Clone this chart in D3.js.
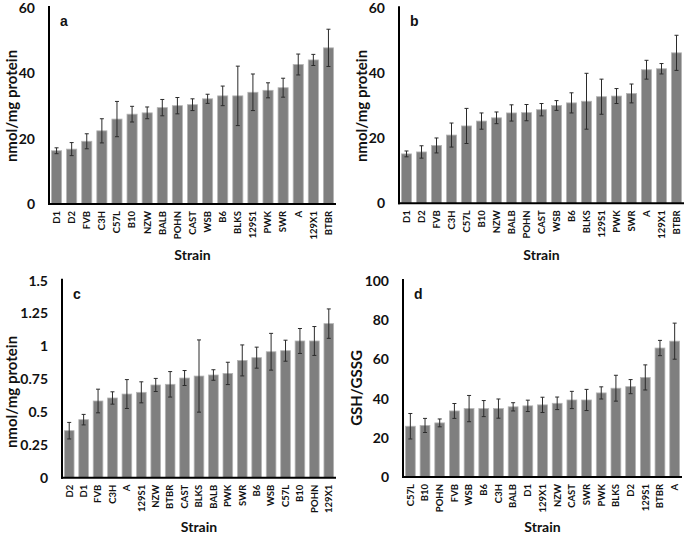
<!DOCTYPE html>
<html>
<head>
<meta charset="utf-8">
<script src="https://cdn.jsdelivr.net/npm/d3@7"></script>
<style>
  body { margin: 0; background: #fff; }
  text { font-family: Lato, "Open Sans", sans-serif; font-weight: bold; }
</style>
</head>
<body>
<div id="chart"></div>
<script>
// strain order and values for each panel
var strainsAB = ["D1", "D2", "FVB", "C3H", "C57L", "B10", "NZW", "BALB", "POHN", "CAST", "WSB", "B6", "BLKS", "129S1", "PWK", "SWR", "A", "129X1", "BTBR"];
var valuesA = [16.3, 16.8, 19.2, 22.4, 26.0, 27.5, 27.9, 29.5, 30.1, 30.4, 32.2, 33.1, 33.1, 34.2, 34.8, 35.6, 42.7, 44.1, 47.8];
var errorsA = [0.9, 2.0, 2.3, 3.7, 5.4, 2.4, 1.8, 2.5, 2.5, 1.8, 1.4, 3.0, 9.1, 5.6, 2.3, 2.9, 3.2, 1.7, 5.7];
var valuesB = [15.2, 15.8, 17.8, 21.0, 23.8, 25.3, 26.3, 27.8, 27.9, 28.8, 30.1, 30.9, 31.4, 32.8, 33.0, 33.8, 41.1, 41.4, 46.3];
var errorsB = [0.9, 1.9, 2.3, 3.7, 5.4, 2.5, 1.8, 2.5, 2.5, 1.9, 1.5, 3.1, 8.6, 5.4, 2.3, 2.9, 2.9, 1.6, 5.4];

var strainsC = ["D2", "D1", "FVB", "C3H", "A", "129S1", "NZW", "BTBR", "CAST", "BLKS", "BALB", "PWK", "SWR", "B6", "WSB", "C57L", "B10", "POHN", "129X1"];
var valuesC = [0.358, 0.442, 0.584, 0.607, 0.637, 0.65, 0.706, 0.711, 0.759, 0.774, 0.782, 0.794, 0.893, 0.914, 0.959, 0.967, 1.041, 1.041, 1.173];
var errorsC = [0.063, 0.04, 0.09, 0.047, 0.11, 0.08, 0.05, 0.097, 0.057, 0.275, 0.04, 0.085, 0.118, 0.08, 0.14, 0.08, 0.095, 0.11, 0.112];

var strainsD = ["C57L", "B10", "POHN", "FVB", "WSB", "B6", "C3H", "BALB", "D1", "129X1", "NZW", "CAST", "SWR", "PWK", "BLKS", "D2", "129S1", "BTBR", "A"];
var valuesD = [25.9, 26.3, 27.6, 33.7, 34.9, 34.9, 34.9, 35.8, 36.3, 36.8, 37.6, 39.3, 39.3, 42.9, 45.3, 46.1, 50.8, 65.8, 69.3];
var errorsD = [6.5, 3.6, 2.0, 3.8, 6.7, 4.1, 4.9, 2.1, 2.9, 3.9, 3.2, 4.4, 5.4, 3.1, 6.6, 3.6, 6.4, 3.9, 9.2];

var ticksAB = [0, 20, 40, 60];
var ticksC = [0, 0.25, 0.5, 0.75, 1, 1.25, 1.5];
var ticksD = [0, 20, 40, 60, 80, 100];

var svg = d3.select("#chart")
  .append("svg")
  .attr("width", 685)
  .attr("height", 535);

function drawPanel(p) {
  var g = svg.append("g");

  var x = d3.scaleBand()
    .domain(p.strains)
    .range([p.left, p.right])
    .paddingInner(0.33)
    .paddingOuter(0.165);

  var y = d3.scaleLinear()
    .domain([0, p.max])
    .range([p.bottom, p.top]);

  // bars
  g.selectAll("rect.bar")
    .data(p.values)
    .enter()
    .append("rect")
    .attr("class", "bar")
    .attr("x", function(d, i) { return x(p.strains[i]); })
    .attr("width", x.bandwidth())
    .attr("y", function(d) { return y(d); })
    .attr("height", function(d) { return y(0) - y(d); })
    .attr("fill", "#7f7f7f")
    .attr("stroke", "#b5b5b5")
    .attr("stroke-width", 0.8);

  // error bars
  var err = g.selectAll("g.err")
    .data(p.values)
    .enter()
    .append("g")
    .attr("class", "err")
    .attr("stroke", "#2b2b2b")
    .attr("stroke-width", 1);

  err.append("line")
    .attr("x1", function(d, i) { return x(p.strains[i]) + x.bandwidth() / 2; })
    .attr("x2", function(d, i) { return x(p.strains[i]) + x.bandwidth() / 2; })
    .attr("y1", function(d, i) { return y(d - p.errors[i]); })
    .attr("y2", function(d, i) { return y(d + p.errors[i]); });

  [-1, 1].forEach(function(s) {
    err.append("line")
      .attr("x1", function(d, i) { return x(p.strains[i]) + x.bandwidth() / 2 - 2; })
      .attr("x2", function(d, i) { return x(p.strains[i]) + x.bandwidth() / 2 + 2; })
      .attr("y1", function(d, i) { return y(d + s * p.errors[i]); })
      .attr("y2", function(d, i) { return y(d + s * p.errors[i]); });
  });

  // axes lines
  g.append("line")
    .attr("x1", p.left).attr("x2", p.left)
    .attr("y1", y(p.max) - 2).attr("y2", y(0) + 1)
    .attr("stroke", "#000").attr("stroke-width", 2);
  g.append("line")
    .attr("x1", p.left - 1).attr("x2", p.right)
    .attr("y1", y(0)).attr("y2", y(0))
    .attr("stroke", "#000").attr("stroke-width", 2);

  // y tick labels
  g.selectAll("text.ytick")
    .data(p.ticks)
    .enter()
    .append("text")
    .attr("x", p.left - 14)
    .attr("y", function(d) { return y(d); })
    .attr("dy", "0.35em")
    .attr("text-anchor", "end")
    .attr("font-size", "14px")
    .attr("fill", "#111")
    .text(function(d) { return d; });

  // x tick labels
  g.selectAll("text.xtick")
    .data(p.strains)
    .enter()
    .append("text")
    .attr("transform", function(d) {
      return "translate(" + (x(d) + x.bandwidth() / 2) + "," + (y(0) + 7) + ") rotate(-90)";
    })
    .attr("dy", "0.35em")
    .attr("text-anchor", "end")
    .attr("font-size", "9.5px")
    .attr("fill", "#111")
    .text(function(d) { return d; });

  // axis titles
  g.append("text")
    .attr("transform", "translate(" + p.titleX + "," + p.titleY + ") rotate(-90)")
    .attr("text-anchor", "middle")
    .attr("font-size", "15px")
    .attr("fill", "#111")
    .text(p.yTitle);

  g.append("text")
    .attr("x", (p.left + p.right) / 2)
    .attr("y", p.strainY)
    .attr("text-anchor", "middle")
    .attr("font-size", "14px")
    .attr("fill", "#111")
    .text("Strain");

  // panel letter
  g.append("text")
    .attr("x", p.left + 11)
    .attr("y", y(p.max) + 18)
    .style("font-family", "'Liberation Sans', Arial, sans-serif")
    .attr("font-size", "14px")
    .attr("fill", "#111")
    .text(p.letter);
}

drawPanel({ letter: "a", strains: strainsAB, values: valuesA, errors: errorsA, max: 60, ticks: ticksAB,
  left: 49, right: 336, top: 8, bottom: 204, titleX: 17, titleY: 106, yTitle: "nmol/mg protein", strainY: 260 });
drawPanel({ letter: "b", strains: strainsAB, values: valuesB, errors: errorsB, max: 60, ticks: ticksAB,
  left: 399, right: 684, top: 8.3, bottom: 203.3, titleX: 367, titleY: 106, yTitle: "nmol/mg protein", strainY: 260 });
drawPanel({ letter: "c", strains: strainsC, values: valuesC, errors: errorsC, max: 1.5, ticks: ticksC,
  left: 62, right: 336, top: 280.7, bottom: 477.7, titleX: 17, titleY: 392, yTitle: "nmol/mg protein", strainY: 532 });
drawPanel({ letter: "d", strains: strainsD, values: valuesD, errors: errorsD, max: 100, ticks: ticksD,
  left: 403, right: 682, top: 281, bottom: 477, titleX: 362, titleY: 388, yTitle: "GSH/GSSG", strainY: 532 });
</script>
</body>
</html>
